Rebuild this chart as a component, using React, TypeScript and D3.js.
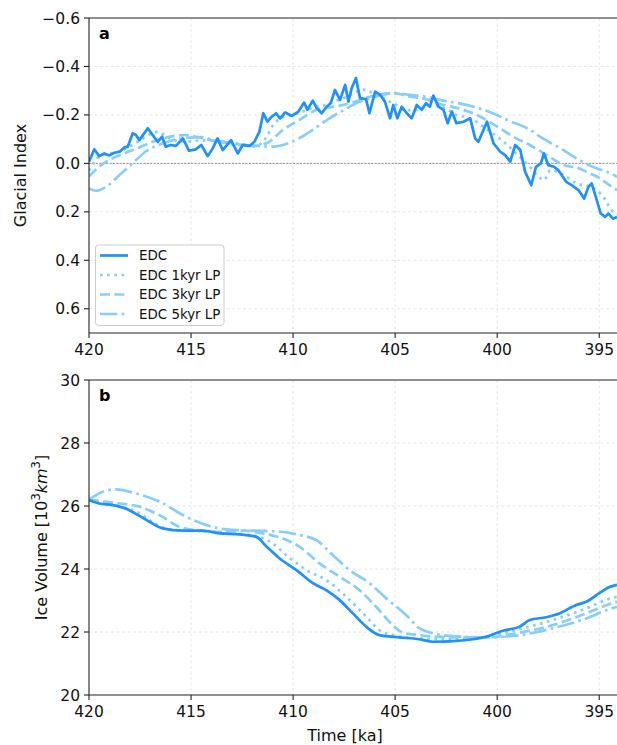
import React from 'react';
import * as d3 from 'd3';

// ---------- data ----------
const xTicks = [420, 415, 410, 405, 400, 395];
const yTicksA = [-0.6, -0.4, -0.2, 0.0, 0.2, 0.4, 0.6];
const yTicksB = [20, 22, 24, 26, 28, 30];
const legendLabels = ['EDC', 'EDC 1kyr LP', 'EDC 3kyr LP', 'EDC 5kyr LP'];

// Panel a: EDC glacial index
const edcTimeA = [420.0, 419.74, 419.5, 419.25, 419.0, 418.76, 418.5, 418.27, 418.1, 417.86, 417.7, 417.53, 417.12, 416.88, 416.63, 416.42, 416.24, 416.0, 415.74, 415.4, 415.1, 414.77, 414.5, 414.18, 413.94, 413.7, 413.45, 413.04, 412.71, 412.47, 412.14, 411.9, 411.65, 411.46, 411.26, 411.04, 410.83, 410.64, 410.39, 410.06, 409.74, 409.46, 409.3, 409.04, 408.84, 408.6, 408.36, 408.16, 407.95, 407.7, 407.45, 407.29, 407.13, 406.92, 406.72, 406.43, 406.26, 405.98, 405.74, 405.5, 405.25, 405.09, 404.89, 404.68, 404.43, 404.19, 403.94, 403.7, 403.49, 403.3, 403.13, 402.88, 402.63, 402.43, 402.22, 402.0, 401.65, 401.32, 401.08, 400.92, 400.5, 400.18, 399.85, 399.61, 399.36, 399.12, 398.87, 398.63, 398.33, 398.1, 397.86, 397.71, 397.5, 397.22, 397.0, 396.62, 396.35, 396.02, 395.74, 395.53, 395.37, 395.12, 394.93, 394.71, 394.55, 394.33, 394.13];
const edcValA = [-0.007, -0.058, -0.03, -0.041, -0.033, -0.044, -0.048, -0.066, -0.069, -0.124, -0.117, -0.096, -0.145, -0.117, -0.089, -0.11, -0.069, -0.076, -0.072, -0.103, -0.052, -0.058, -0.076, -0.03, -0.062, -0.103, -0.055, -0.096, -0.041, -0.076, -0.072, -0.089, -0.131, -0.207, -0.172, -0.193, -0.207, -0.186, -0.21, -0.196, -0.214, -0.251, -0.221, -0.259, -0.228, -0.207, -0.234, -0.248, -0.303, -0.262, -0.324, -0.255, -0.31, -0.352, -0.269, -0.265, -0.207, -0.296, -0.283, -0.255, -0.186, -0.241, -0.186, -0.234, -0.207, -0.186, -0.241, -0.221, -0.248, -0.234, -0.28, -0.234, -0.221, -0.166, -0.214, -0.166, -0.172, -0.186, -0.103, -0.089, -0.172, -0.083, -0.048, -0.034, -0.007, -0.076, -0.055, 0.035, 0.09, 0.014, 0.0, -0.041, 0.007, 0.014, 0.028, 0.076, 0.09, 0.11, 0.145, 0.097, 0.083, 0.152, 0.207, 0.221, 0.207, 0.228, 0.221];

const lp1TimeA = [420, 419.5, 419, 418.5, 418, 417.5, 417, 416.6, 416.2, 415.8, 415.2, 414.5, 414, 413.5, 413, 412.5, 412, 411.6, 411.3, 411, 410.5, 410, 409.5, 409, 408.5, 408, 407.5, 407, 406.6, 406.2, 405.8, 405.4, 405, 404.5, 404, 403.5, 403, 402.5, 402, 401.5, 401, 400.5, 400, 399.6, 399, 398.4, 397.9, 397.7, 397.4, 396.75, 396.1, 395.4, 394.8, 394.4, 394.13];
const lp1ValA = [0.03, -0.027, -0.04, -0.05, -0.07, -0.095, -0.12, -0.13, -0.11, -0.095, -0.09, -0.095, -0.095, -0.09, -0.08, -0.075, -0.07, -0.08, -0.11, -0.155, -0.19, -0.2, -0.215, -0.23, -0.24, -0.255, -0.27, -0.29, -0.305, -0.295, -0.28, -0.26, -0.245, -0.22, -0.22, -0.235, -0.24, -0.225, -0.2, -0.19, -0.17, -0.14, -0.11, -0.083, -0.035, 0.014, 0.06, 0.069, 0.028, 0.048, 0.083, 0.097, 0.138, 0.193, 0.21];

const lp3TimeA = [420, 419.5, 418.84, 418.2, 417.53, 416.88, 416.06, 415.25, 414.43, 413.6, 412.8, 412, 411.3, 410.5, 409.7, 408.84, 408, 407.2, 406.2, 405.1, 404.3, 403.5, 402.8, 401.65, 401, 400, 399, 398.4, 397.5, 396.75, 396, 395.5, 395, 394.5, 394.13];
const lp3ValA = [0.053, 0.014, -0.021, -0.044, -0.066, -0.089, -0.11, -0.117, -0.103, -0.089, -0.08, -0.072, -0.083, -0.138, -0.179, -0.221, -0.234, -0.248, -0.276, -0.29, -0.276, -0.265, -0.245, -0.221, -0.2, -0.152, -0.1, -0.076, -0.03, 0.007, 0.02, 0.04, 0.06, 0.09, 0.11];

const lp5TimeA = [420, 419.67, 419.17, 418.5, 417.87, 417.2, 416.3, 415.3, 414.5, 413.9, 413, 412.27, 411, 410.06, 409.17, 408.35, 407.5, 406.72, 405.9, 405.08, 404.3, 403.5, 402.8, 401.16, 400.02, 399.5, 398.38, 397.9, 396.75, 396.26, 395.12, 394.63, 394.13];
const lp5ValA = [0.104, 0.113, 0.097, 0.048, 0.0, -0.05, -0.085, -0.105, -0.108, -0.096, -0.085, -0.076, -0.069, -0.089, -0.131, -0.179, -0.221, -0.255, -0.276, -0.29, -0.283, -0.275, -0.262, -0.234, -0.2, -0.179, -0.138, -0.11, -0.055, -0.028, 0.021, 0.035, 0.055];

// Panel b: ice volume
const edcTimeB = [420, 419.5, 418.84, 418.2, 417.7, 417.04, 416.39, 415.4, 414.43, 413.6, 412.63, 411.8, 411.3, 410.67, 409.85, 409.03, 408.38, 407.73, 407.07, 406.42, 405.77, 404.79, 403.81, 403.15, 402.17, 401.19, 400.54, 399.72, 398.9, 398.4, 397.6, 396.95, 396.13, 395.64, 394.98, 394.53, 394.13];
const edcValB = [26.19, 26.08, 26.03, 25.92, 25.75, 25.5, 25.29, 25.22, 25.22, 25.13, 25.1, 25.02, 24.71, 24.34, 23.97, 23.55, 23.33, 23.02, 22.59, 22.17, 21.9, 21.83, 21.77, 21.69, 21.71, 21.77, 21.85, 22.04, 22.17, 22.38, 22.47, 22.59, 22.86, 22.96, 23.24, 23.42, 23.5];

const lp1TimeB = [420, 418.84, 417.7, 416.39, 415.4, 414.43, 413.3, 412.4, 411.65, 410.99, 410.34, 409.36, 408.38, 407.4, 406.42, 405.77, 405.12, 404.0, 402.17, 400.54, 398.9, 397.27, 395.64, 394.53, 394.13];
const lp1ValB = [26.2, 26.05, 25.82, 25.32, 25.22, 25.2, 25.14, 25.1, 25.02, 24.81, 24.44, 23.97, 23.65, 23.12, 22.49, 22.06, 21.9, 21.8, 21.77, 21.85, 22.09, 22.38, 22.75, 23.05, 23.12];

const lp3TimeB = [420, 418.5, 417.53, 416.55, 415.57, 414.92, 413.6, 412.47, 411.49, 410.5, 409.69, 408.71, 407.73, 406.75, 405.93, 405.12, 404.62, 403.81, 402.17, 400.54, 398.9, 397.27, 395.64, 394.53, 394.13];
const lp3ValB = [26.2, 26.08, 25.98, 25.71, 25.34, 25.24, 25.18, 25.22, 25.13, 24.97, 24.71, 24.18, 23.76, 23.33, 22.8, 22.22, 21.98, 21.9, 21.83, 21.83, 21.98, 22.22, 22.59, 22.88, 22.96];

const lp5TimeB = [420, 419.33, 418.68, 417.7, 416.55, 415.25, 414.27, 413.28, 411.98, 410.67, 409.69, 408.87, 408.05, 407.24, 406.26, 405.44, 404.46, 403.81, 403.15, 402.17, 400.54, 398.9, 397.27, 395.64, 394.53, 394.13];
const lp5ValB = [26.2, 26.45, 26.53, 26.4, 26.14, 25.66, 25.4, 25.26, 25.22, 25.19, 25.08, 24.92, 24.44, 23.97, 23.55, 23.07, 22.54, 22.12, 21.96, 21.87, 21.83, 21.9, 22.12, 22.43, 22.72, 22.8];

// ---------- layout ----------
const W = 617;
const H = 745;
const LEFT = 89;
const RIGHT = 617;
const A_TOP = 18;
const A_BOT = 333;
const B_TOP = 380;
const B_BOT = 695;
const FONT = 'DejaVu Sans, sans-serif';
const DARK = '#1E90FF';
const LIGHT = '#87CEFA';
const LW = 2.7;
const TICK_FS = 15.5;
const LABEL_FS = 16;

const styles = [
  { color: DARK, dash: undefined as string | undefined },
  { color: LIGHT, dash: `${1 * LW},${1.65 * LW}` },
  { color: LIGHT, dash: `${3.7 * LW},${1.6 * LW}` },
  { color: LIGHT, dash: `${6.4 * LW},${1.6 * LW},${1 * LW},${1.6 * LW}` },
];

const x = d3.scaleLinear().domain([420, 394.13]).range([LEFT, RIGHT]);
const yA = d3.scaleLinear().domain([-0.6, 0.7]).range([A_TOP, A_BOT]);
const yB = d3.scaleLinear().domain([30, 20]).range([B_TOP, B_BOT]);

const fmtA = (v: number) => {
  const s = Math.abs(v).toFixed(1);
  return v < -1e-9 ? '\u2212' + s : s;
};

function mkLine(ts: number[], vs: number[], y: d3.ScaleLinear<number, number>, smooth: boolean) {
  const pts = ts.map((t, i) => [t, vs[i]] as [number, number]);
  const gen = d3
    .line<[number, number]>()
    .x((d) => x(d[0]))
    .y((d) => y(d[1]))
    .curve(smooth ? d3.curveMonotoneX : d3.curveLinear);
  return gen(pts) || '';
}

function Panel(props: {
  top: number;
  bot: number;
  y: d3.ScaleLinear<number, number>;
  yTicks: number[];
  fmt: (v: number) => string;
  letter: string;
  series: { t: number[]; v: number[]; smooth: boolean }[];
  zero?: boolean;
  clipId: string;
}) {
  const { top, bot, y, yTicks, fmt, letter, series, zero, clipId } = props;
  return (
    <g>
      <defs>
        <clipPath id={clipId}>
          <rect x={LEFT} y={top} width={RIGHT - LEFT} height={bot - top} />
        </clipPath>
      </defs>
      {xTicks.slice(1).map((t) => (
        <line key={'gx' + t} x1={x(t)} x2={x(t)} y1={top} y2={bot} stroke="#e3e3e3" strokeWidth={0.9} strokeDasharray="3,2.5" />
      ))}
      {yTicks
        .filter((v) => y(v) > top + 0.5 && y(v) < bot - 0.5)
        .map((v) => (
          <line key={'gy' + v} x1={LEFT} x2={RIGHT} y1={y(v)} y2={y(v)} stroke="#e3e3e3" strokeWidth={0.9} strokeDasharray="3,2.5" />
        ))}
      {zero && (
        <line x1={LEFT} x2={RIGHT} y1={y(0)} y2={y(0)} stroke="#8a8a8a" strokeWidth={0.9} strokeDasharray="2.2,1.2" />
      )}
      <g clipPath={`url(#${clipId})`}>
        {series
          .map((s, i) => ({ s, i }))
          .reverse()
          .map(({ s, i }) => (
            <path
              key={'s' + i}
              d={mkLine(s.t, s.v, y, s.smooth)}
              fill="none"
              stroke={styles[i].color}
              strokeWidth={LW}
              strokeDasharray={styles[i].dash}
              strokeLinejoin="round"
            />
          ))}
      </g>
      <line x1={LEFT} x2={RIGHT} y1={top} y2={top} stroke="#222" strokeWidth={1.1} />
      <line x1={LEFT} x2={RIGHT} y1={bot} y2={bot} stroke="#222" strokeWidth={1.1} />
      <line x1={LEFT} x2={LEFT} y1={top} y2={bot} stroke="#222" strokeWidth={1.1} />
      {xTicks.map((t) => (
        <g key={'xt' + t}>
          <line x1={x(t)} x2={x(t)} y1={bot} y2={bot + 5} stroke="#222" strokeWidth={1.1} />
          <text x={x(t)} y={bot + 22} textAnchor="middle" fontFamily={FONT} fontSize={TICK_FS} fill="#111">
            {t}
          </text>
        </g>
      ))}
      {yTicks.map((v) => (
        <g key={'yt' + v}>
          <line x1={LEFT - 5} x2={LEFT} y1={y(v)} y2={y(v)} stroke="#222" strokeWidth={1.1} />
          <text x={LEFT - 9} y={y(v) + 5.5} textAnchor="end" fontFamily={FONT} fontSize={TICK_FS} fill="#111">
            {fmt(v)}
          </text>
        </g>
      ))}
      <text x={LEFT + 10} y={top + 21} fontFamily={FONT} fontSize={16} fontWeight="bold" fill="#000">
        {letter}
      </text>
    </g>
  );
}

export default function App() {
  const seriesA = [
    { t: edcTimeA, v: edcValA, smooth: false },
    { t: lp1TimeA, v: lp1ValA, smooth: true },
    { t: lp3TimeA, v: lp3ValA, smooth: true },
    { t: lp5TimeA, v: lp5ValA, smooth: true },
  ];
  const seriesB = [
    { t: edcTimeB, v: edcValB, smooth: true },
    { t: lp1TimeB, v: lp1ValB, smooth: true },
    { t: lp3TimeB, v: lp3ValB, smooth: true },
    { t: lp5TimeB, v: lp5ValB, smooth: true },
  ];
  const legX = 95.5;
  const legY = 245;
  const rowY = [255.5, 275, 294.5, 314];
  return (
    <svg width={W} height={H} style={{ position: 'absolute', left: 0, top: 0, background: '#fff' }}>
      <rect x={0} y={0} width={W} height={H} fill="#fff" />
      <Panel top={A_TOP} bot={A_BOT} y={yA} yTicks={yTicksA} fmt={fmtA} letter="a" series={seriesA} zero clipId="clipA" />
      <Panel top={B_TOP} bot={B_BOT} y={yB} yTicks={yTicksB} fmt={(v) => String(v)} letter="b" series={seriesB} clipId="clipB" />
      <rect x={legX} y={legY} width={128.5} height={80.5} rx={3} fill="#fff" fillOpacity={0.8} stroke="#cccccc" strokeWidth={1} />
      {legendLabels.map((lab, i) => (
        <g key={lab}>
          <line x1={100} x2={128} y1={rowY[i]} y2={rowY[i]} stroke={styles[i].color} strokeWidth={LW} strokeDasharray={styles[i].dash} />
          <text x={139} y={rowY[i] + 4.5} fontFamily={FONT} fontSize={13.4} fill="#111">
            {lab}
          </text>
        </g>
      ))}
      <text transform={`translate(26,${(A_TOP + A_BOT) / 2}) rotate(-90)`} textAnchor="middle" fontFamily={FONT} fontSize={LABEL_FS} fill="#111">
        Glacial Index
      </text>
      <text transform={`translate(47,${(B_TOP + B_BOT) / 2}) rotate(-90)`} textAnchor="middle" fontFamily={FONT} fontSize={LABEL_FS} fill="#111">
        <tspan>Ice Volume [10</tspan>
        <tspan dy={-7} fontSize={11.5}>3</tspan>
        <tspan dy={7} fontStyle="italic">km</tspan>
        <tspan dy={-7} fontSize={11.5}>3</tspan>
        <tspan dy={7}>]</tspan>
      </text>
      <text x={(LEFT + RIGHT) / 2 - 8} y={741} textAnchor="middle" fontFamily={FONT} fontSize={LABEL_FS} fill="#111">
        Time [ka]
      </text>
    </svg>
  );
}
